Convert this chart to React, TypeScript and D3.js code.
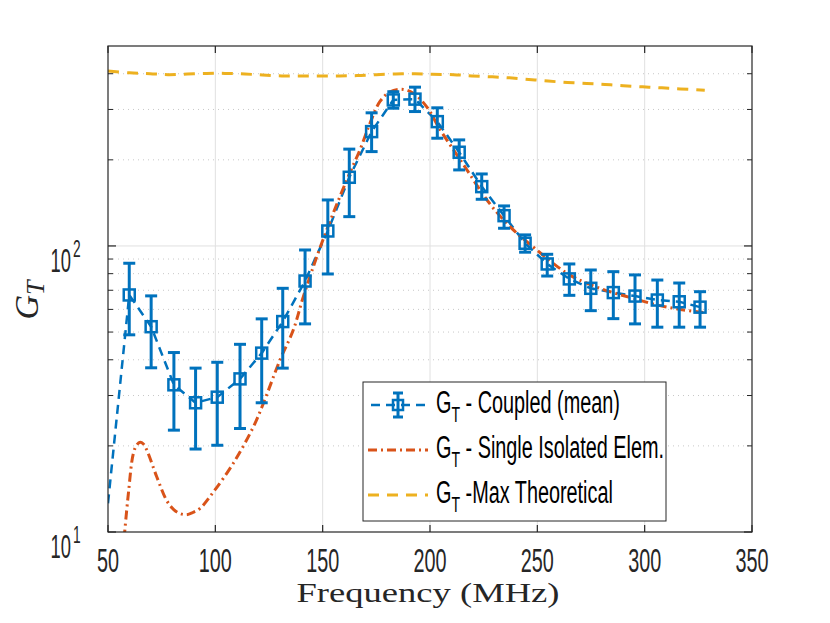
import React from "react";
import * as d3 from "d3";

// ---------- data ----------
const coupledFreq = [59.9, 70.1, 80.7, 90.8, 100.9, 111.5, 121.6, 131.4, 141.8, 152.4, 162.4, 172.8, 182.9, 193.0, 203.4, 213.6, 224.1, 234.5, 244.3, 254.6, 264.9, 274.9, 285.4, 295.5, 305.9, 316.1, 325.8];
const coupledMean = [67.4, 52.2, 32.7, 28.3, 29.6, 34.3, 42.2, 54.4, 75.4, 112.8, 173.8, 251, 324, 326, 272, 212.6, 161.2, 127.6, 102.2, 86.5, 76.7, 71.1, 68.7, 66.8, 64.7, 63.8, 61.1];
const coupledUpper = [87.0, 66.9, 42.4, 37.4, 39.2, 45.3, 55.6, 71.1, 96.8, 144.8, 218, 292, 346, 359, 304, 234.8, 178.5, 138, 109.3, 93.5, 86.5, 82.4, 81.3, 79.2, 76.0, 74.2, 69.2];
const coupledLower = [48.9, 37.5, 22.7, 19.5, 20.1, 23.0, 28.3, 37.4, 53.4, 79.8, 126.6, 213.7, 303, 295, 238, 184.4, 145.6, 115.3, 95.1, 78.5, 67.2, 59.4, 55.7, 53.4, 52.0, 52.0, 52.0];
// leading point of the coupled line (no marker)
const coupledLeadFreq = [50];
const coupledLeadValue = [12.6];

const singleFreq = [57.5, 59.5, 61.8, 63.5, 65, 66.5, 68, 72.7, 77.3, 80.5, 83.5, 86.7, 89.5, 92.9, 99.1, 108.4, 117.7, 122.4, 130.1, 136.3, 141, 149.5, 161.2, 167.4, 172, 176.7, 181.4, 186.8, 192.2, 198.4, 204.7, 210.9, 217.1, 223.3, 229.5, 238.8, 245.1, 263.7, 273, 283.8, 294.7, 305.6, 316.4, 327.3];
const singleValue = [9.5, 13.65, 18.8, 20.2, 20.6, 20.3, 19.4, 15.6, 12.9, 12.0, 11.6, 11.5, 11.7, 12.1, 13.8, 17.4, 23.3, 28.2, 39.9, 50.8, 66.5, 102, 170, 217, 268, 320, 346, 353, 342, 307, 255, 217, 185, 157, 135.5, 113.8, 103.5, 80.3, 74.1, 69.2, 65.6, 62.2, 60.0, 58.5];

const maxFreq = [50, 60, 69.6, 78, 87, 96, 104.5, 113.8, 122, 131, 140, 149, 158, 166, 175, 184, 193, 201, 211, 219.5, 229, 237, 246, 255, 264, 273, 281.5, 290, 299, 308, 316.5, 328];
const maxValue = [409, 403, 400, 397, 399, 401, 401, 399, 396, 393, 393, 393, 393, 394, 397, 399, 400, 398, 397, 393, 390, 387, 382, 377, 373, 370, 367, 363, 360, 357, 354, 350];

const xTicks = [50, 100, 150, 200, 250, 300, 350];
const yMajorTicks = [10, 100];
const yExponents = ["1", "2"];
const yMinorTicks = [20, 30, 40, 50, 60, 70, 80, 90, 200, 300, 400];

const legendLabels = [" - Coupled (mean)", " - Single Isolated Elem.", " -Max Theoretical"];

// ---------- layout ----------
const W = 830, H = 623;
const L = 108, R = 752, T = 46, B = 532;
const BLUE = "#0072BD", ORANGE = "#D95319", YELLOW = "#EDB120";
const NARROW = "'Liberation Sans', Arial, sans-serif";
const SERIF = "'Liberation Serif', 'DejaVu Serif', serif";

export default function App() {
  const x = d3.scaleLinear().domain([50, 350]).range([L, R]);
  const y = d3.scaleLog().domain([10, 500]).range([B, T]);

  const lineLin = d3.line<[number, number]>().x(d => x(d[0])).y(d => y(d[1]));
  const lineSmooth = d3.line<[number, number]>().x(d => x(d[0])).y(d => y(d[1])).curve(d3.curveCatmullRom.alpha(0.5));

  const coupledPts: [number, number][] = [
    ...coupledLeadFreq.map((f, i) => [f, coupledLeadValue[i]] as [number, number]),
    ...coupledFreq.map((f, i) => [f, coupledMean[i]] as [number, number]),
  ];
  const singlePts = singleFreq.map((f, i) => [f, singleValue[i]] as [number, number]);
  const maxPts = maxFreq.map((f, i) => [f, maxValue[i]] as [number, number]);

  const capW = 12, mk = 11;
  const axisCol = "#262626";

  const legendRows = [405, 450, 495];

  return (
    <svg width={W} height={H} style={{ position: "absolute", left: 0, top: 0, background: "#fff" }}>
      <defs>
        <clipPath id="plotclip">
          <rect x={L} y={T} width={R - L} height={B - T} />
        </clipPath>
      </defs>
      <rect x={0} y={0} width={W} height={H} fill="#fff" />
      {/* grid */}
      {xTicks.slice(1, -1).map(t => (
        <line key={"gx" + t} x1={x(t)} x2={x(t)} y1={T} y2={B} stroke="#e0e0e0" strokeWidth={1} />
      ))}
      {yMinorTicks.map(t => (
        <line key={"gmy" + t} x1={L} x2={R} y1={y(t)} y2={y(t)} stroke="#c8c8c8" strokeWidth={1} strokeDasharray="1,4" />
      ))}
      {yMajorTicks.slice(1).map(t => (
        <line key={"gy" + t} x1={L} x2={R} y1={y(t)} y2={y(t)} stroke="#e0e0e0" strokeWidth={1} />
      ))}

      {/* series */}
      <g clipPath="url(#plotclip)" fill="none">
        <path d={lineSmooth(maxPts) || ""} stroke={YELLOW} strokeWidth={3} strokeDasharray="11,8" />
        <path d={lineLin(coupledPts) || ""} stroke={BLUE} strokeWidth={2.5} strokeDasharray="9,6" />
        <path d={lineSmooth(singlePts) || ""} stroke={ORANGE} strokeWidth={3} strokeDasharray="9,4,2,4" />
        {coupledFreq.map((f, i) => {
          const cx = x(f);
          return (
            <g key={"e" + i} stroke={BLUE} strokeWidth={3}>
              <line x1={cx} x2={cx} y1={y(coupledUpper[i])} y2={y(coupledLower[i])} />
              <line x1={cx - capW / 2} x2={cx + capW / 2} y1={y(coupledUpper[i])} y2={y(coupledUpper[i])} />
              <line x1={cx - capW / 2} x2={cx + capW / 2} y1={y(coupledLower[i])} y2={y(coupledLower[i])} />
              <rect x={cx - mk / 2} y={y(coupledMean[i]) - mk / 2} width={mk} height={mk} strokeWidth={2.5} fill="none" />
            </g>
          );
        })}
      </g>

      {/* axes box */}
      <rect x={L} y={T} width={R - L} height={B - T} fill="none" stroke={axisCol} strokeWidth={1.2} />
      {xTicks.map(t => (
        <g key={"xt" + t} stroke={axisCol} strokeWidth={1.2}>
          <line x1={x(t)} x2={x(t)} y1={B} y2={B - 7} />
          <line x1={x(t)} x2={x(t)} y1={T} y2={T + 7} />
        </g>
      ))}
      {yMajorTicks.map(t => (
        <g key={"yt" + t} stroke={axisCol} strokeWidth={1.2}>
          <line x1={L} x2={L + 8} y1={y(t)} y2={y(t)} />
          <line x1={R} x2={R - 8} y1={y(t)} y2={y(t)} />
        </g>
      ))}
      {yMinorTicks.map(t => (
        <g key={"ymt" + t} stroke={axisCol} strokeWidth={1}>
          <line x1={L} x2={L + 5} y1={y(t)} y2={y(t)} />
          <line x1={R} x2={R - 5} y1={y(t)} y2={y(t)} />
        </g>
      ))}

      {/* tick labels */}
      {xTicks.map(t => (
        <g key={"xl" + t} transform={`translate(${x(t)},572) scale(0.6,1)`}>
          <text x={0} y={0} textAnchor="middle" fontFamily={NARROW} fontSize={33} fill={axisCol}>{t}</text>
        </g>
      ))}
      {yMajorTicks.map((t, i) => (
        <g key={"yl" + t}>
          <g transform={`translate(71,${y(t) + 26}) scale(0.54,1)`}>
            <text x={0} y={0} textAnchor="end" fontFamily={NARROW} fontSize={34} fill={axisCol}>10</text>
          </g>
          <g transform={`translate(73,${y(t) + 11}) scale(0.6,1)`}>
            <text x={0} y={0} textAnchor="start" fontFamily={NARROW} fontSize={23} fill={axisCol}>{yExponents[i]}</text>
          </g>
        </g>
      ))}

      {/* axis labels */}
      <text x={428} y={602} textAnchor="middle" fontFamily={SERIF} fontSize={28} fill={axisCol} textLength={263} lengthAdjust="spacingAndGlyphs">Frequency (MHz)</text>
      <g transform="translate(38,300) rotate(-90)">
        <text x={0} y={0} textAnchor="middle" fontFamily={SERIF} fontStyle="italic" fontSize={34} fill={axisCol}>
          G<tspan fontSize={26} dy={6}>T</tspan>
        </text>
      </g>

      {/* legend */}
      <rect x={363} y={382} width={303} height={139} fill="#fff" stroke={axisCol} strokeWidth={1} />
      <line x1={368} x2={428} y1={legendRows[0]} y2={legendRows[0]} stroke={BLUE} strokeWidth={2.5} strokeDasharray="9,6" strokeDashoffset={-3} />
      <g stroke={BLUE} strokeWidth={3} fill="none">
        <line x1={398} x2={398} y1={legendRows[0] - 12} y2={legendRows[0] + 12} />
        <line x1={393} x2={403} y1={legendRows[0] - 12} y2={legendRows[0] - 12} />
        <line x1={393} x2={403} y1={legendRows[0] + 12} y2={legendRows[0] + 12} />
        <rect x={393} y={legendRows[0] - 5} width={10} height={10} strokeWidth={2.5} />
      </g>
      <line x1={368} x2={428} y1={legendRows[1]} y2={legendRows[1]} stroke={ORANGE} strokeWidth={3} strokeDasharray="9,4,2,4" />
      <line x1={368} x2={428} y1={legendRows[2]} y2={legendRows[2]} stroke={YELLOW} strokeWidth={3} strokeDasharray="11,8" />
      {legendLabels.map((lab, i) => (
        <g key={"lg" + i} transform={`translate(436,${legendRows[i] + 8}) scale(0.64,1)`}>
          <text x={0} y={0} fontFamily={NARROW} fontSize={31} fill="#000">
            G<tspan fontSize={22} dy={9}>T</tspan><tspan dy={-9}>{lab}</tspan>
          </text>
        </g>
      ))}
    </svg>
  );
}
